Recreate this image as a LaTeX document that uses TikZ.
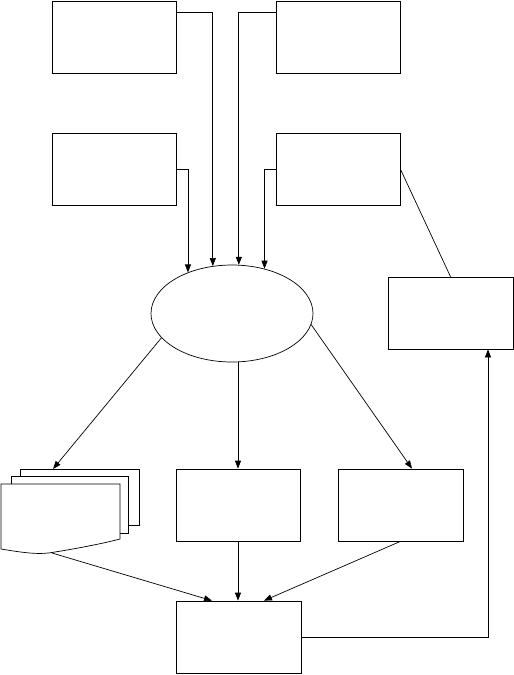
\documentclass[tikz,border=0pt]{standalone}
\usetikzlibrary{arrows.meta,shapes.geometric}
\begin{document}
\begin{tikzpicture}[x=1pt,y=-1pt,
  line width=0.7pt,
  box/.style={draw,rectangle,minimum width=124pt,minimum height=72pt,inner sep=0pt,fill=white},
  wbox/.style={box,minimum width=125pt},
  arr/.style={-{Triangle[length=8pt,width=6pt]}},
  sheet/.style={draw,fill=white}]
\useasboundingbox (0,0) rectangle (514,675);
% boxes
\node[box] (tl) at (114,37) {};
\node[box] (tr) at (338,37) {};
\node[box] (ml) at (114,169) {};
\node[box] (mr) at (338,169) {};
\node[wbox] (rb) at (450.5,313) {};
\node[box] (mb) at (238,505) {};
\node[wbox] (rl) at (400.5,505) {};
\node[wbox] (bb) at (238.5,637) {};
\node[draw,ellipse,minimum width=162pt,minimum height=97pt,inner sep=0pt] (ell) at (232,313.5) {};
% document stack
\draw[sheet] (20,469) rectangle (139,525);
\draw[sheet] (11,476) rectangle (128,533);
\draw[sheet] (1,484) -- (120,484) -- (120,539)
  .. controls (105,543) and (80,548) .. (55,552)
  .. controls (40,555) and (25,553) .. (1,549) -- cycle;
\coordinate (doctop) at (53,469);
\coordinate (docbot) at (52,553);
% connectors into ellipse
\draw[arr] ([yshift=-12pt]tl.north east) -| (ell.112.4);
\draw[arr] ([yshift=-12pt]tr.north west) -| (ell.82.7);
\draw[arr] (ml.east) -| (ell.137.7);
\draw[arr] (mr.west) -| (ell.54.5);
\draw (mr.east) -- (rb.north);
% out of ellipse
\draw[arr] (ell.199.5) -- (doctop);
\draw[arr] (ell.south -| mb.north) -- (mb.north);
\draw[arr] (ell.-8) -- ([xshift=11.5pt]rl.north);
% into bottom box
\draw[arr] (docbot) -- ([xshift=-26.5pt]bb.north);
\draw[arr] (mb.south) -- (mb.south |- bb.north);
\draw[arr] (rl.south) -- ([xshift=25.5pt]bb.north);
\draw[arr] (bb.east) -| ([xshift=37.5pt]rb.south);
\end{tikzpicture}
\end{document}
